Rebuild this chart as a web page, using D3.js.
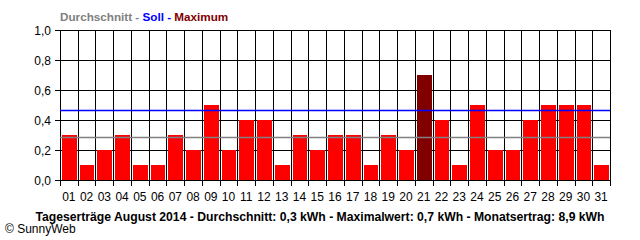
<!DOCTYPE html>
<html>
<head>
<meta charset="utf-8">
<script src="https://cdn.jsdelivr.net/npm/d3@7"></script>
<style>
  body { margin: 0; background: #fff; }
  svg { display: block; font-family: "Liberation Sans", Arial, sans-serif; }
</style>
</head>
<body>
<div id="canvas"></div>
<script>
const days = ["01","02","03","04","05","06","07","08","09","10","11","12","13","14","15","16",
              "17","18","19","20","21","22","23","24","25","26","27","28","29","30","31"];
const yields = [0.3,0.1,0.2,0.3,0.1,0.1,0.3,0.2,0.5,0.2,0.4,0.4,0.1,0.3,0.2,0.3,
                0.3,0.1,0.3,0.2,0.7,0.4,0.1,0.5,0.2,0.2,0.4,0.5,0.5,0.5,0.1];
const yTicks = [0, 0.2, 0.4, 0.6, 0.8, 1.0];
const average = 0.29;
const target = 0.47;
const maxDay = "21";
const legend = [
  {text: "Durchschnitt - ", color: "#808080"},
  {text: "Soll - ", color: "#0000ff"},
  {text: "Maximum", color: "#800000"}
];
const caption = "Tageserträge August 2014 - Durchschnitt: 0,3 kWh - Maximalwert: 0,7 kWh - Monatsertrag: 8,9 kWh";

const w = 640, h = 240;
const margin = {top: 30, bottom: 60, left: 60, right: 30};

const svg = d3.select("#canvas").append("svg")
  .attr("width", w).attr("height", h);

const x = d3.scaleBand().domain(days).range([margin.left, w - margin.right]);
const y = d3.scaleLinear().domain([0, 1]).range([h - margin.bottom, margin.top]);
const fmt = d => d3.format(".1f")(d).replace(".", ",");

// horizontal grid + y labels
svg.selectAll("line.hgrid").data(yTicks).enter().append("line")
  .attr("class", "hgrid")
  .attr("x1", margin.left - 5).attr("x2", w - margin.right)
  .attr("y1", d => y(d) + 0.5).attr("y2", d => y(d) + 0.5)
  .attr("stroke", "#000");
svg.selectAll("text.ylab").data(yTicks).enter().append("text")
  .attr("class", "ylab")
  .attr("x", 51).attr("y", d => y(d) + 4.5)
  .attr("text-anchor", "end").attr("font-size", 12)
  .text(fmt);

// vertical grid + ticks under the axis
const edges = days.map(d => x(d)).concat([x.range()[1]]);
svg.selectAll("line.vgrid").data(edges).enter().append("line")
  .attr("class", "vgrid")
  .attr("x1", d => Math.round(d) + 0.5).attr("x2", d => Math.round(d) + 0.5)
  .attr("y1", y(1)).attr("y2", y(0) + 6)
  .attr("stroke", "#000");

// bars
svg.selectAll("rect.bar").data(days).enter().append("rect")
  .attr("class", "bar")
  .attr("x", d => Math.round(x(d)) + 2)
  .attr("width", d => Math.round(x(d) + x.bandwidth()) - Math.round(x(d)) - 3)
  .attr("y", (d, i) => Math.round(y(yields[i])))
  .attr("height", (d, i) => Math.round(y(0)) - Math.round(y(yields[i])))
  .attr("fill", d => d === maxDay ? "#800000" : "#ff0000");

// average and target lines drawn over the bars
const refLines = [{v: average, c: "#808080"}, {v: target, c: "#0000ff"}];
svg.selectAll("line.ref").data(refLines).enter().append("line")
  .attr("class", "ref")
  .attr("x1", margin.left).attr("x2", w - margin.right)
  .attr("y1", d => Math.round(y(d.v)) + 0.5).attr("y2", d => Math.round(y(d.v)) + 0.5)
  .attr("stroke", d => d.c).attr("stroke-width", 1.3);

// x labels
svg.selectAll("text.xlab").data(days).enter().append("text")
  .attr("class", "xlab")
  .attr("x", d => x(d) + x.bandwidth() / 2).attr("y", 201)
  .attr("text-anchor", "middle").attr("font-size", 12)
  .text(d => d);

// legend title
const t = svg.append("text").attr("x", 60).attr("y", 21)
  .attr("font-size", 11.7).attr("font-weight", "bold");
t.selectAll("tspan").data(legend).enter().append("tspan")
  .attr("fill", d => d.color).attr("xml:space", "preserve")
  .text(d => d.text);

svg.append("text").attr("x", 320).attr("y", 221)
  .attr("text-anchor", "middle").attr("font-size", 12).attr("font-weight", "bold")
  .attr("textLength", 569).attr("lengthAdjust", "spacingAndGlyphs")
  .text(caption);

svg.append("text").attr("x", 5).attr("y", 233).attr("font-size", 12)
  .text("© SunnyWeb");
</script>
</body>
</html>
